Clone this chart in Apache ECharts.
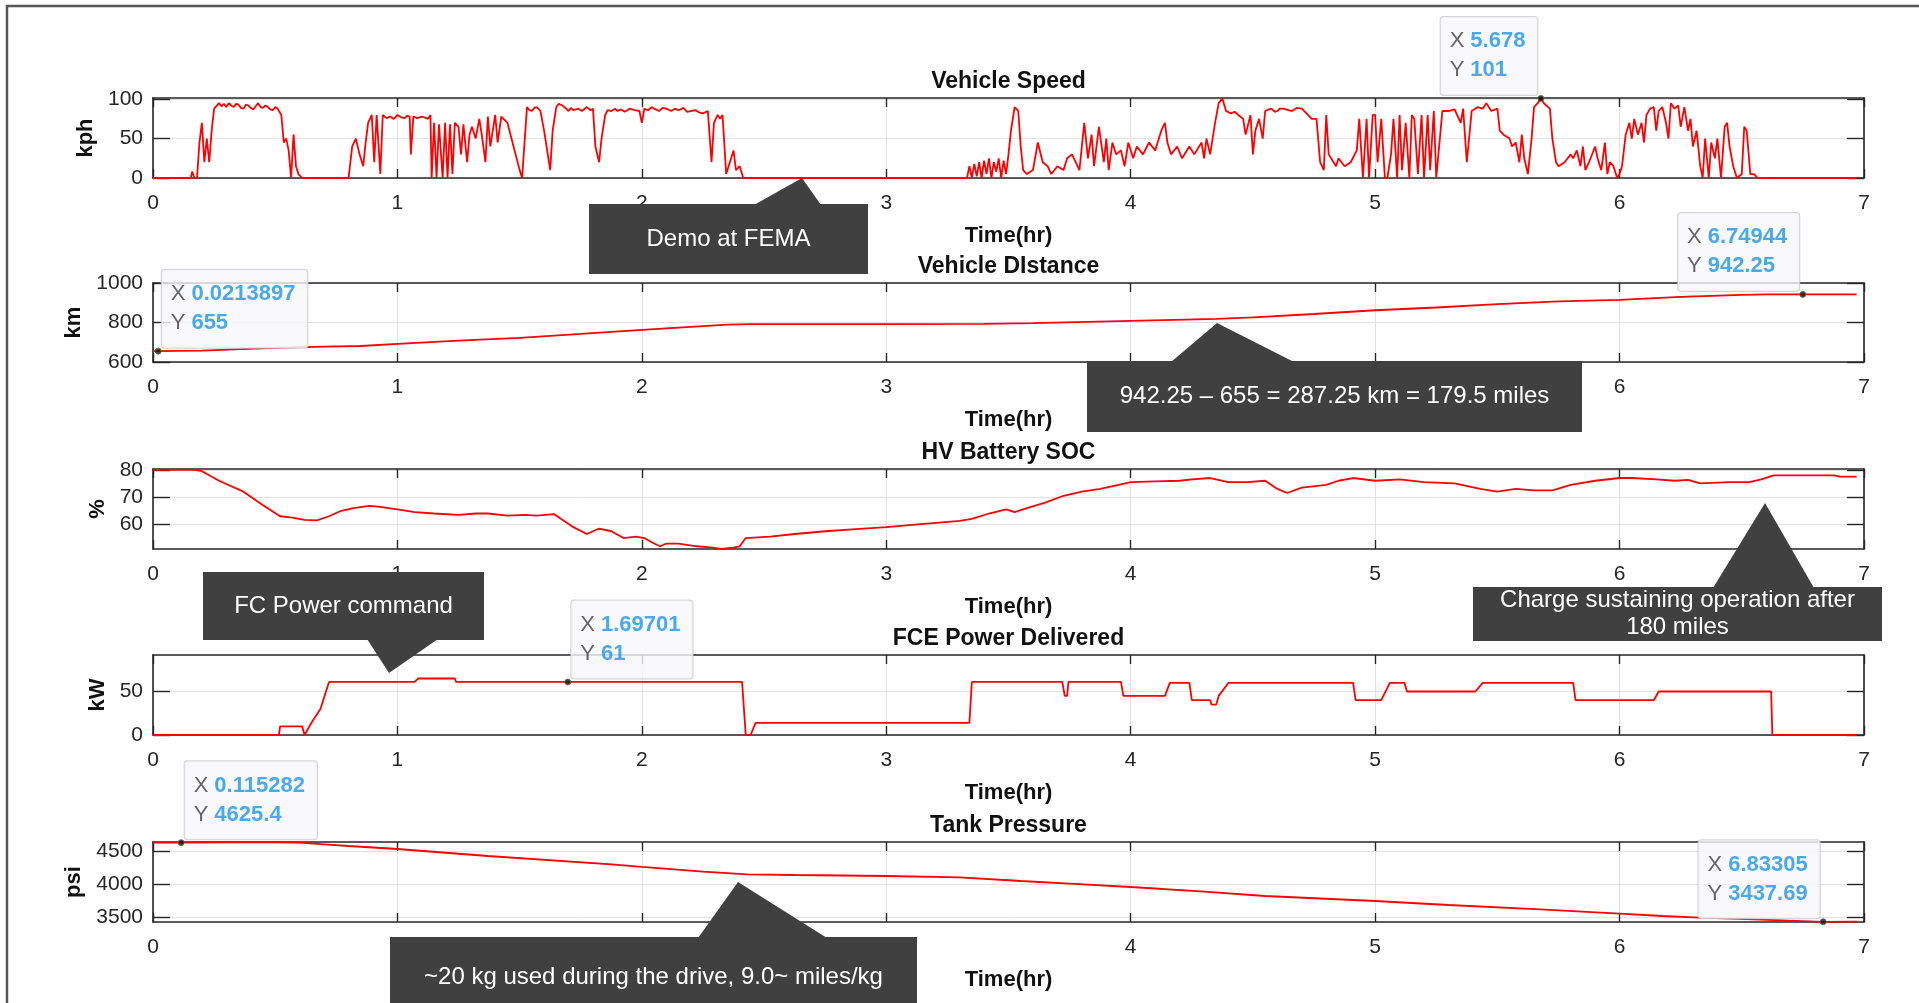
<!DOCTYPE html>
<html>
<head>
<meta charset="utf-8">
<title>FCEV drive log</title>
<script src="https://cdn.jsdelivr.net/npm/echarts@6.0.0/dist/echarts.min.js"></script>
<style>
    html, body { margin: 0; padding: 0; background: #ffffff; }
    #main { width: 1919px; height: 1003px; }
</style>
</head>
<body>
<div id="main"></div>
<script>
// values, [time (hr), value]
const speedData = [
    [0, 0], [0.155, 0], [0.16, 8], [0.17, 0], [0.18, 0], [0.19, 45], [0.2, 70], [0.21, 20], [0.22, 50],
    [0.23, 20], [0.24, 60], [0.25, 88], [0.27, 95], [0.28, 91], [0.29, 94], [0.3, 90], [0.31, 95],
    [0.32, 92], [0.33, 90], [0.34, 94], [0.35, 93], [0.36, 89], [0.37, 88], [0.38, 93], [0.39, 92],
    [0.4, 89], [0.41, 87], [0.42, 91], [0.43, 95], [0.44, 90], [0.45, 89], [0.46, 92], [0.47, 90],
    [0.48, 87], [0.49, 86], [0.5, 90], [0.51, 88],
    [0.525, 80], [0.535, 45], [0.545, 50], [0.555, 35], [0.565, 0], [0.575, 55], [0.585, 15], [0.595, 5],
    [0.61, 0], [0.8, 0], [0.815, 40], [0.83, 50], [0.845, 30], [0.86, 15], [0.87, 45], [0.88, 70],
    [0.895, 80], [0.905, 20], [0.915, 80], [0.93, 5], [0.94, 80], [0.955, 76], [0.97, 78], [0.985, 75],
    [1.0, 80], [1.015, 77], [1.03, 76], [1.04, 79],
    [1.05, 78], [1.055, 30], [1.065, 78], [1.08, 76], [1.1, 78], [1.125, 75], [1.135, 80], [1.14, 0], [1.15, 70],
    [1.16, 0], [1.17, 68], [1.185, 0], [1.195, 70], [1.205, 0], [1.215, 68], [1.225, 5], [1.235, 70],
    [1.25, 65], [1.26, 30], [1.27, 68], [1.285, 20], [1.295, 55], [1.305, 65], [1.32, 50], [1.335, 75],
    [1.345, 55], [1.36, 20], [1.37, 78], [1.38, 40], [1.4, 80], [1.41, 45], [1.425, 78], [1.45, 70],
    [1.475, 40], [1.5, 10], [1.51, 0], [1.53, 90], [1.54, 86], [1.55, 85], [1.56, 89], [1.57, 90], [1.585, 85], [1.6, 60],
    [1.625, 10], [1.635, 60], [1.65, 90], [1.66, 94], [1.675, 92], [1.69, 88], [1.7, 85], [1.71, 89],
    [1.72, 86], [1.74, 88], [1.755, 85], [1.775, 90], [1.79, 86], [1.8, 88],
    [1.81, 40], [1.825, 20], [1.835, 50], [1.85, 80], [1.86, 86], [1.875, 85], [1.89, 88], [1.9, 85],
    [1.915, 87], [1.93, 84], [1.95, 88], [1.97, 86], [1.99, 85],
    [2.0, 70], [2.01, 88], [2.025, 86], [2.04, 90], [2.05, 88], [2.07, 85], [2.085, 89], [2.1, 88],
    [2.12, 85], [2.135, 88], [2.15, 86], [2.17, 89], [2.185, 84], [2.2, 85], [2.22, 86], [2.235, 83],
    [2.25, 82], [2.27, 85],
    [2.285, 20], [2.295, 70], [2.31, 80], [2.32, 75], [2.33, 80], [2.345, 5], [2.36, 20], [2.375, 35],
    [2.385, 10], [2.4, 15], [2.415, 0], [3.33, 0], [3.34, 15], [3.35, 0], [3.36, 18], [3.37, 2],
    [3.38, 20], [3.39, 0], [3.4, 22], [3.41, 5], [3.42, 25], [3.43, 0], [3.44, 20], [3.45, 8],
    [3.46, 25], [3.47, 0], [3.48, 22], [3.49, 5], [3.5, 30], [3.51, 60], [3.525, 90], [3.54, 85],
    [3.55, 40], [3.56, 10], [3.575, 5], [3.6, 10], [3.62, 45], [3.64, 20], [3.66, 15], [3.675, 5],
    [3.7, 15], [3.725, 10], [3.74, 25], [3.76, 30], [3.79, 10], [3.81, 70], [3.825, 25], [3.84, 55],
    [3.85, 15], [3.87, 65], [3.89, 20], [3.9, 50], [3.91, 10], [3.925, 45], [3.94, 30], [3.96, 35],
    [3.975, 15], [3.99, 45], [4.01, 25], [4.025, 40], [4.05, 30], [4.075, 45], [4.1, 35], [4.125, 60],
    [4.14, 70], [4.15, 45], [4.165, 30], [4.19, 40], [4.21, 25], [4.24, 40], [4.26, 30], [4.29, 45],
    [4.3, 25], [4.31, 50], [4.325, 30], [4.345, 70], [4.36, 95], [4.375, 101], [4.39, 85], [4.41, 82],
    [4.425, 84], [4.44, 80], [4.46, 75], [4.47, 55], [4.49, 80], [4.5, 30], [4.51, 60], [4.525, 75], [4.54, 50],
    [4.55, 85], [4.565, 87], [4.575, 88], [4.59, 84], [4.6, 85], [4.61, 88], [4.625, 88], [4.645, 86],
    [4.66, 85], [4.68, 89], [4.7, 88], [4.725, 80], [4.74, 75],
    [4.76, 75], [4.775, 20], [4.79, 10], [4.8, 80], [4.81, 30], [4.84, 15], [4.85, 25], [4.875, 15],
    [4.9, 20], [4.925, 35], [4.935, 75], [4.95, 0], [4.965, 75], [4.975, 0], [4.99, 80], [5.0, 80],
    [5.01, 20], [5.025, 75], [5.04, 0], [5.05, 0], [5.065, 30], [5.075, 75], [5.09, 0], [5.1, 80],
    [5.11, 10], [5.125, 70], [5.14, 0], [5.15, 80], [5.16, 75], [5.175, 5], [5.19, 80], [5.2, 0],
    [5.215, 80], [5.225, 10], [5.24, 85], [5.25, 0], [5.275, 85], [5.3, 85], [5.325, 87], [5.35, 70],
    [5.36, 88], [5.375, 20], [5.395, 85], [5.42, 90], [5.44, 88], [5.455, 95], [5.475, 85], [5.5, 88],
    [5.51, 60], [5.525, 55], [5.55, 50], [5.56, 40], [5.575, 45], [5.59, 20], [5.6, 55], [5.61, 25],
    [5.625, 5], [5.64, 50], [5.65, 90], [5.665, 95], [5.678, 101], [5.69, 95], [5.7, 92], [5.715, 88],
    [5.725, 50], [5.74, 20], [5.75, 15], [5.775, 20], [5.8, 30], [5.81, 25], [5.825, 35], [5.84, 15],
    [5.85, 40], [5.86, 10], [5.875, 20], [5.9, 40], [5.91, 25], [5.925, 10], [5.94, 45], [5.95, 5],
    [5.96, 20], [5.975, 15], [5.99, 0], [6.0, 5], [6.01, 15], [6.025, 55], [6.04, 70], [6.05, 50],
    [6.06, 75], [6.075, 55], [6.09, 70], [6.1, 45], [6.11, 80], [6.125, 88], [6.14, 90], [6.15, 60],
    [6.16, 85], [6.175, 90], [6.19, 70], [6.2, 50], [6.21, 95], [6.225, 88], [6.24, 92], [6.25, 65],
    [6.265, 90], [6.28, 60], [6.29, 75], [6.3, 40], [6.315, 60], [6.33, 15], [6.34, 0], [6.35, 50],
    [6.365, 0], [6.375, 45], [6.39, 25], [6.4, 50], [6.415, 0], [6.43, 65], [6.44, 70], [6.45, 40],
    [6.465, 15], [6.48, 0], [6.5, 5], [6.51, 65], [6.52, 60], [6.535, 5], [6.55, 5], [6.565, 0],
    [6.97, 0]
];

const distanceData = [
    [0, 655], [0.2, 658], [0.5, 672], [0.7, 678], [0.85, 681], [1.0, 692], [1.25, 708], [1.5, 722],
    [1.75, 742], [2.0, 763], [2.2, 778], [2.35, 789], [2.45, 792], [3.0, 792], [3.4, 793], [3.6, 797],
    [4.0, 808], [4.35, 818], [4.5, 826], [4.75, 843], [5.0, 862], [5.25, 876], [5.5, 893], [5.75, 907],
    [6.0, 915], [6.25, 930], [6.5, 940], [6.6, 942], [6.75, 942.25], [6.97, 942.25]
];

const socData = [
    [0, 80], [0.17, 80], [0.2, 79.5], [0.27, 76], [0.37, 72], [0.45, 67], [0.52, 63], [0.57, 62.5],
    [0.62, 61.7], [0.67, 61.5], [0.72, 63], [0.77, 65], [0.82, 66], [0.885, 66.8], [0.92, 66.5],
    [1.0, 65.5], [1.07, 64.5], [1.15, 64], [1.25, 63.5], [1.32, 64], [1.37, 64], [1.45, 63.2],
    [1.52, 63.5], [1.57, 63.2], [1.64, 63.8], [1.67, 62], [1.72, 59], [1.775, 56.5], [1.825, 58.5],
    [1.875, 57.5], [1.925, 55], [1.975, 55.5], [2.01, 55], [2.05, 53], [2.075, 52], [2.1, 53],
    [2.15, 53], [2.225, 52], [2.29, 51.5], [2.325, 51], [2.375, 51.5], [2.4, 52], [2.425, 55],
    [2.525, 55.5], [2.625, 56.5], [2.75, 57.5], [2.875, 58.3], [3.0, 59], [3.13, 60], [3.3, 61.3],
    [3.35, 62], [3.42, 64], [3.49, 65.5], [3.525, 64.5], [3.575, 66], [3.65, 68], [3.725, 70.5],
    [3.8, 72], [3.875, 73], [3.95, 74.5], [4.0, 75.5], [4.1, 75.8], [4.2, 76], [4.25, 76.5],
    [4.325, 77], [4.4, 75.5], [4.475, 75.5], [4.55, 76], [4.6, 73], [4.64, 71.5], [4.7, 73.5],
    [4.8, 74.5], [4.85, 76], [4.91, 77], [5.0, 76], [5.1, 76.5], [5.2, 75.5], [5.325, 75],
    [5.43, 73], [5.5, 72], [5.575, 73], [5.65, 72.5], [5.725, 72.5], [5.8, 74.5], [5.9, 76],
    [6.0, 77], [6.05, 77], [6.15, 76.5], [6.225, 76], [6.28, 76.3], [6.33, 75], [6.45, 75.5],
    [6.53, 75.5], [6.58, 76.5], [6.63, 78], [6.7, 78], [6.88, 78], [6.9, 77.5], [6.97, 77.5]
];

const fcPowerData = [
    [0, 0], [0.515, 0], [0.52, 10], [0.61, 10], [0.62, 0], [0.65, 15], [0.685, 30], [0.72, 61],
    [1.07, 61], [1.085, 65], [1.235, 65], [1.24, 61], [2.41, 61], [2.425, 0], [2.445, 0], [2.465, 14],
    [3.34, 14], [3.35, 61], [3.72, 61], [3.73, 45], [3.74, 45], [3.745, 61], [3.96, 61], [3.97, 45],
    [4.14, 45], [4.16, 60], [4.24, 60], [4.25, 40], [4.325, 40], [4.33, 35], [4.35, 35], [4.36, 45],
    [4.4, 60], [4.91, 60], [4.92, 40], [5.025, 40], [5.06, 60], [5.12, 60], [5.13, 50], [5.41, 50],
    [5.44, 60], [5.81, 60], [5.82, 40], [6.14, 40], [6.16, 50], [6.62, 50], [6.625, 0], [6.97, 0]
];

const tankData = [
    [0, 4625], [0.115282, 4625.4], [0.3, 4628], [0.5, 4628], [0.6, 4625], [0.7, 4600], [0.8, 4575],
    [1.0, 4530], [1.37, 4425], [1.875, 4300], [2.0, 4262], [2.25, 4190], [2.43, 4150], [2.625, 4140],
    [3.0, 4125], [3.3, 4105], [3.55, 4050], [3.75, 4010], [4.0, 3960], [4.3, 3890], [4.55, 3825],
    [5.0, 3750], [5.3, 3690], [5.675, 3625], [6.0, 3560], [6.175, 3525], [6.33, 3500], [6.55, 3475],
    [6.83305, 3437.69], [6.97, 3440]
];

const panelData = [speedData, distanceData, socData, fcPowerData, tankData];
const titles = ["Vehicle Speed", "Vehicle DIstance", "HV Battery SOC", "FCE Power Delivered", "Tank Pressure"];
const yNames = ["kph", "km", "%", "kW", "psi"];
const yMins = [0, 600, 51, 0, 3435];
const yMaxs = [101.5, 1000, 80.3, 92, 4635];
const yTicks = [[0, 50, 100], [600, 800, 1000], [60, 70, 80], [0, 50], [3500, 4000, 4500]];

// data tips placed on the curves
const tipPanels = [0, 1, 1, 3, 4, 4];
const tipX = [5.678, 0.0213897, 6.74944, 1.69701, 0.115282, 6.83305];
const tipY = [101, 655, 942.25, 61, 4625.4, 3437.69];
const tipSides = ["left", "right", "left", "right", "right", "left"];

const notes = [
    "Demo at FEMA",
    "942.25 \u2013 655 = 287.25 km = 179.5 miles",
    "Charge sustaining operation after\n180 miles",
    "FC Power command",
    "~20 kg used during the drive, 9.0~ miles/kg"
];

// layout
const font = "Liberation Sans, Arial, Helvetica, sans-serif";
const ink = "#262626";
const gridLeft = 153;
const gridWidth = 1711;
const gridTops = [98, 283, 469, 655, 842];
const gridHeights = [80, 79, 80, 80, 80];
const yNameGaps = [56, 68, 44, 44, 67];

const grids = [];
const xAxes = [];
const yAxes = [];
const series = [];
const titleList = [];

gridTops.forEach((top, i) => {
    grids.push({ left: gridLeft, top: top, width: gridWidth, height: gridHeights[i] });

    titleList.push({
        text: titles[i],
        left: gridLeft + gridWidth / 2,
        textAlign: "center",
        top: top - 28,
        padding: 0,
        textStyle: { fontFamily: font, fontSize: 23, fontWeight: "bold", color: "#111111" },
    });

    const frame = { show: true, onZero: false, lineStyle: { color: ink, width: 1.6 } };

    xAxes.push({
        gridIndex: i,
        type: "value",
        min: 0,
        max: 7,
        interval: 1,
        name: "Time(hr)",
        nameLocation: "middle",
        nameGap: 47,
        nameTextStyle: { fontFamily: font, fontSize: 22, fontWeight: "bold", color: "#111111" },
        axisLine: frame,
        axisTick: { inside: true, length: 9, lineStyle: { color: ink, width: 1.4 } },
        axisLabel: { fontFamily: font, fontSize: 21, color: ink, margin: 15 },
        splitLine: { show: true, lineStyle: { color: "#e2e2e2", width: 1 } },
    });
    xAxes.push({
        gridIndex: i,
        type: "value",
        position: "top",
        min: 0,
        max: 7,
        interval: 1,
        axisLine: frame,
        axisTick: { inside: true, length: 9, lineStyle: { color: ink, width: 1.4 } },
        axisLabel: { show: false },
        splitLine: { show: false },
    });

    yAxes.push({
        gridIndex: i,
        type: "value",
        min: yMins[i],
        max: yMaxs[i],
        name: yNames[i],
        nameLocation: "middle",
        nameGap: yNameGaps[i],
        nameTextStyle: { fontFamily: font, fontSize: 22, fontWeight: "bold", color: "#111111" },
        axisLine: frame,
        axisTick: { inside: true, length: 17, customValues: yTicks[i], lineStyle: { color: ink, width: 1.4 } },
        axisLabel: {
            customValues: yTicks[i],
            formatter: (v) => String(v),
            fontFamily: font,
            fontSize: 21,
            color: ink,
            margin: 10,
        },
        splitLine: { show: true, lineStyle: { color: "#e2e2e2", width: 1 } },
    });
    yAxes.push({
        gridIndex: i,
        type: "value",
        position: "right",
        min: yMins[i],
        max: yMaxs[i],
        axisLine: frame,
        axisTick: { inside: true, length: 17, customValues: yTicks[i], lineStyle: { color: ink, width: 1.4 } },
        axisLabel: { show: false },
        splitLine: { show: false },
    });

    series.push({
        type: "line",
        xAxisIndex: i * 2,
        yAxisIndex: i * 2,
        data: panelData[i],
        showSymbol: false,
        lineStyle: { color: "#ff0000", width: 1.8 },
        z: 3,
    });
});

tipX.forEach((x, k) => {
    const p = tipPanels[k];
    const onLeft = tipSides[k] === "left";
    series.push({
        type: "scatter",
        xAxisIndex: p * 2,
        yAxisIndex: p * 2,
        data: [[x, tipY[k]]],
        symbolSize: 6,
        clip: false,
        z: 20,
        itemStyle: { color: "#111111", borderColor: "#6b6b3a", borderWidth: 1 },
        label: {
            show: true,
            position: onLeft ? [0, 0] : ["100%", 0],
            align: onLeft ? "right" : "left",
            verticalAlign: "bottom",
            formatter: "{k|X}{v|" + x + "}\n{k|Y}{v|" + tipY[k] + "}",
            backgroundColor: "#f8f8fb",
            borderColor: "#c9c9cc",
            borderWidth: 1,
            borderRadius: 3,
            padding: [10, 12, 10, 9],
            rich: {
                k: { fontFamily: font, fontSize: 22, color: "#404040", lineHeight: 29, align: "left", padding: [0, 6, 0, 0] },
                v: { fontFamily: font, fontSize: 22, fontWeight: "bold", color: "#1b95e6", lineHeight: 29, align: "left" },
            },
        },
    });
});

// dark call-out boxes drawn on top of the figure
function callout(box, tip, text) {
    const fill = "#404040";
    return [
        { type: "rect", z: 100, shape: { x: box[0], y: box[1], width: box[2], height: box[3] }, style: { fill: fill } },
        { type: "polygon", z: 100, shape: { points: tip }, style: { fill: fill } },
        {
            type: "text",
            z: 101,
            x: box[0] + box[2] / 2,
            y: box[1] + box[3] / 2,
            style: {
                text: text,
                fill: "#ffffff",
                font: "24px " + font,
                align: "center",
                verticalAlign: "middle",
                lineHeight: 27,
            },
        },
    ];
}

const graphics = [].concat(
    callout([589, 204, 279, 70], [[754, 205], [821, 205], [802, 178]], notes[0]),
    callout([1087, 361, 495, 71], [[1171, 362], [1294, 362], [1217, 323]], notes[1]),
    callout([1473, 587, 409, 54], [[1713, 588], [1814, 588], [1765, 503]], notes[2]),
    callout([203, 572, 281, 68], [[367, 639], [438, 639], [389, 673]], notes[3]),
    callout([390, 937, 527, 80], [[698, 938], [827, 938], [738, 882]], notes[4]),
    [{
        type: "rect",
        z: 0,
        shape: { x: 7, y: 6, width: 1940, height: 1020 },
        style: { fill: "none", stroke: "#555555", lineWidth: 2.5 },
    }]
);

const chart = echarts.init(document.getElementById("main"), null, { renderer: "canvas" });
chart.setOption({
    animation: false,
    backgroundColor: "#ffffff",
    textStyle: { fontFamily: font },
    title: titleList,
    grid: grids,
    xAxis: xAxes,
    yAxis: yAxes,
    series: series,
    graphic: graphics,
});
</script>
</body>
</html>
